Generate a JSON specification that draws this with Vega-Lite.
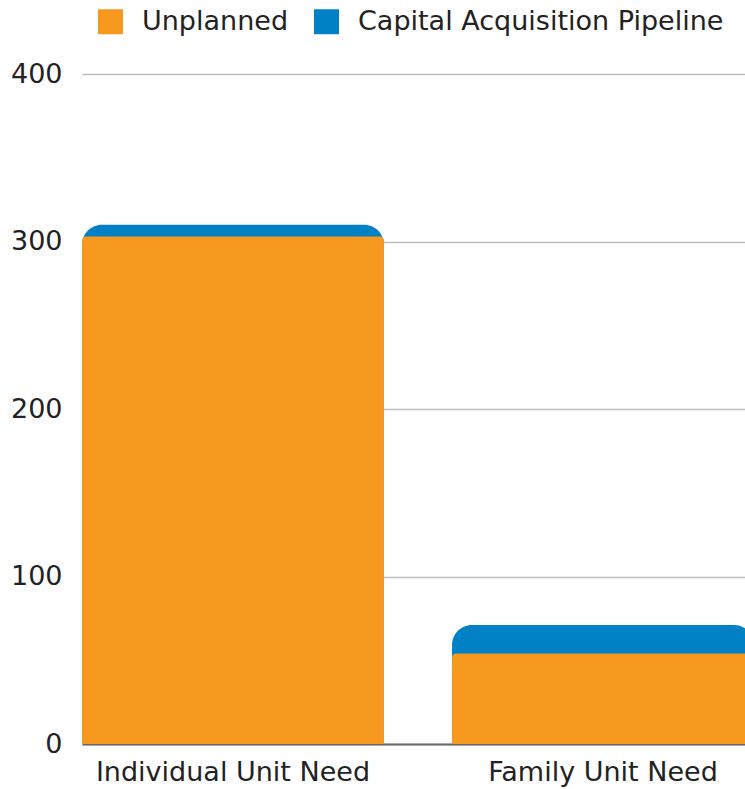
{
  "$schema": "https://vega.github.io/schema/vega-lite/v6.json",
  "width": 663,
  "height": 670,
  "autosize": "none",
  "padding": {"left": 82, "top": 74, "right": 0, "bottom": 45},
  "background": "white",
  "config": {
    "font": "DejaVu Sans",
    "view": {"stroke": null}
  },
  "data": {
    "values": [
      {"category": "Individual Unit Need", "series": "Unplanned", "value": 303},
      {"category": "Individual Unit Need", "series": "Capital Acquisition Pipeline", "value": 7},
      {"category": "Family Unit Need", "series": "Unplanned", "value": 54},
      {"category": "Family Unit Need", "series": "Capital Acquisition Pipeline", "value": 17}
    ]
  },
  "encoding": {
    "x": {
      "field": "category",
      "type": "nominal",
      "sort": ["Individual Unit Need", "Family Unit Need"],
      "scale": {"range": [0, 672], "paddingInner": 0.184, "paddingOuter": 0},
      "axis": {
        "title": null,
        "labelAngle": 0,
        "labelFontSize": 27,
        "labelLimit": 0,
        "labelColor": "#222222",
        "labelPadding": 15,
        "ticks": false,
        "domainColor": "#666666",
        "domainWidth": 2,
        "grid": false
      }
    },
    "y": {
      "type": "quantitative",
      "scale": {"domain": [0, 400]},
      "axis": {
        "title": null,
        "values": [0, 100, 200, 300, 400],
        "labelFontSize": 27,
        "labelColor": "#222222",
        "labelPadding": 20,
        "ticks": false,
        "domain": false,
        "gridColor": "#BDBDBD",
        "gridWidth": 1.5
      }
    }
  },
  "layer": [
    {
      "mark": {"type": "bar", "clip": true, "cornerRadiusTopLeft": 20, "cornerRadiusTopRight": 20},
      "encoding": {
        "y": {"aggregate": "sum", "field": "value", "type": "quantitative"},
        "color": {
          "datum": "Capital Acquisition Pipeline",
          "type": "nominal",
          "scale": {
            "domain": ["Unplanned", "Capital Acquisition Pipeline"],
            "range": ["#F7981F", "#0081C6"]
          },
          "legend": {
            "title": null,
            "orient": "none",
            "legendX": 15,
            "legendY": -66,
            "direction": "horizontal",
            "symbolType": "square",
            "symbolSize": 625,
            "symbolStrokeWidth": 0,
            "labelFontSize": 27,
            "labelLimit": 0,
            "labelColor": "#222222",
            "labelOffset": 18,
            "columnPadding": 24
          }
        }
      }
    },
    {
      "transform": [{"filter": "datum.series === 'Unplanned'"}],
      "mark": {"type": "bar", "clip": true, "cornerRadiusTopLeft": 4, "cornerRadiusTopRight": 4},
      "encoding": {
        "y": {"field": "value", "type": "quantitative", "stack": null},
        "color": {"field": "series", "type": "nominal", "title": null}
      }
    }
  ]
}
